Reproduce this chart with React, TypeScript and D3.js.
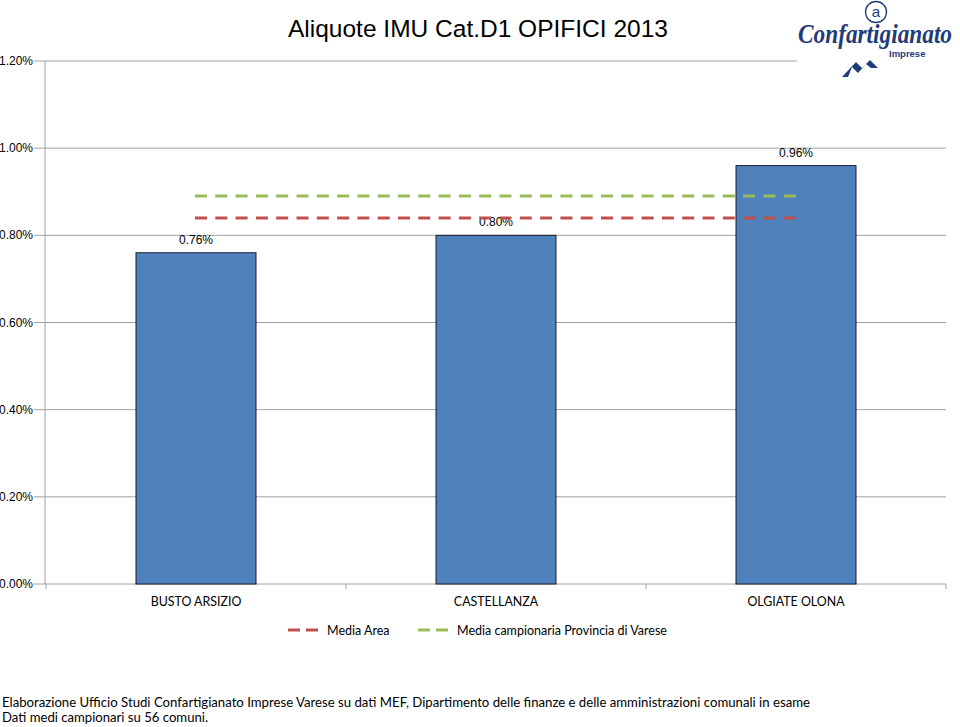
import * as d3 from 'd3';

const categories = ['BUSTO ARSIZIO', 'CASTELLANZA', 'OLGIATE OLONA'];
const aliquote = [0.0076, 0.008, 0.0096];
const mediaArea = 0.0084;
const mediaProvincia = 0.0089;
const yTicks = [0, 0.002, 0.004, 0.006, 0.008, 0.01, 0.012];
const legendItems = [
  { label: 'Media Area', color: '#C0504D' },
  { label: 'Media campionaria Provincia di Varese', color: '#9BBB59' },
];
const footerLines = [
  'Elaborazione Ufficio Studi Confartigianato Imprese Varese su dati MEF, Dipartimento delle finanze e delle amministrazioni comunali in esame',
  'Dati medi campionari su 56 comuni.',
];
const footerWidths = [808, 206];

const width = 960;
const height = 727;
const left = 46;
const right = 946;
const top = 61;
const bottom = 584;

const App = () => {
  const x = d3.scaleBand<string>().domain(categories).range([left, right]).paddingInner(0.6).paddingOuter(0.3);
  const y = d3.scaleLinear().domain([0, 0.012]).range([bottom, top]);
  const fmt = d3.format('.2%');
  const step = x.step();
  const firstC = (x(categories[0]) || 0) + x.bandwidth() / 2;
  const lastC = (x(categories[categories.length - 1]) || 0) + x.bandwidth() / 2;
  const uiFont = 'Lato, "Open Sans", sans-serif';
  const axisFont = '"Liberation Sans", Arial, sans-serif';

  return (
    <svg width={width} height={height} style={{ position: 'absolute', left: 0, top: 0, background: '#fff' }}>
      <rect width={width} height={height} fill="#fff" />

      {/* gridlines + y labels */}
      {yTicks.map((t) => (
        <g key={t}>
          <line x1={34} x2={right} y1={y(t)} y2={y(t)} stroke="#a0a0a0" strokeWidth={1} />
          <text x={33} y={y(t) + 4} textAnchor="end" fontFamily={axisFont} fontSize={12} fill="#000">
            {fmt(t)}
          </text>
        </g>
      ))}
      <line x1={left - 1} x2={left - 1} y1={top} y2={bottom} stroke="#a0a0a0" />

      {/* x ticks */}
      {d3.range(categories.length + 1).map((i) => (
        <line key={i} x1={left + i * step} x2={left + i * step} y1={bottom} y2={bottom + 5} stroke="#a0a0a0" />
      ))}

      {/* bars */}
      {categories.map((c, i) => (
        <g key={c}>
          <rect
            x={x(c)}
            y={y(aliquote[i])}
            width={x.bandwidth()}
            height={bottom - y(aliquote[i])}
            fill="#4F81BD"
            stroke="#1a1a2e"
            strokeWidth={1}
          />
          <text
            x={(x(c) || 0) + x.bandwidth() / 2}
            y={y(aliquote[i]) - 9}
            textAnchor="middle"
            fontFamily={axisFont}
            fontSize={12}
          >
            {fmt(aliquote[i])}
          </text>
          <text
            x={(x(c) || 0) + x.bandwidth() / 2}
            y={606}
            textAnchor="middle"
            fontFamily={uiFont}
            fontSize={12.4}
          >
            {c}
          </text>
        </g>
      ))}

      {/* average lines */}
      <line x1={firstC - 1} x2={lastC + 1} y1={y(mediaProvincia)} y2={y(mediaProvincia)} stroke="#9BBB59" strokeWidth={3} strokeDasharray="12 8.3" />
      <line x1={firstC - 1} x2={lastC + 1} y1={y(mediaArea)} y2={y(mediaArea)} stroke="#C0504D" strokeWidth={3} strokeDasharray="12 8.3" />

      {/* legend */}
      {legendItems.map((d, i) => {
        const lx = i === 0 ? 288 : 418;
        return (
          <g key={d.label}>
            <line x1={lx} x2={lx + 30} y1={630} y2={630} stroke={d.color} strokeWidth={3} strokeDasharray="12 6" />
            <text x={lx + 39} y={634.5} fontFamily={uiFont} fontSize={12.5}>
              {d.label}
            </text>
          </g>
        );
      })}

      {/* title */}
      <text x={288} y={37} fontFamily={axisFont} fontSize={24.5}>
        Aliquote IMU Cat.D1 OPIFICI 2013
      </text>

      {/* logo */}
      <g>
        <rect x={797} y={0} width={158} height={78} fill="#fff" />
        <circle cx={876} cy={12} r={10.5} fill="none" stroke="#1f3b7a" strokeWidth={1.3} />
        <text x={876} y={17} textAnchor="middle" fontFamily={axisFont} fontSize={15} fill="#1f3b7a">
          a
        </text>
        <text
          x={798}
          y={43}
          fontFamily='"Liberation Serif", serif'
          fontStyle="italic"
          fontWeight="bold"
          fontSize={27}
          fill="#1f3b7a"
          textLength={154}
          lengthAdjust="spacingAndGlyphs"
        >
          Confartigianato
        </text>
        <text x={889} y={57} fontFamily={axisFont} fontWeight="bold" fontSize={9.5} fill="#1f3b7a">
          Imprese
        </text>
        <path d="M842,77 L856,62 L862,68 L870,60 L878,68 L871,68 L866,64 L858,73 L852,67 L848,77 Z" fill="#1f3b7a" />
      </g>

      {/* footer */}
      {footerLines.map((l, i) => (
        <text
          key={i}
          x={2}
          y={707 + i * 15}
          fontFamily={uiFont}
          fontSize={13.5}
          textLength={footerWidths[i]}
          lengthAdjust="spacingAndGlyphs"
        >
          {l}
        </text>
      ))}
    </svg>
  );
};

export default App;
